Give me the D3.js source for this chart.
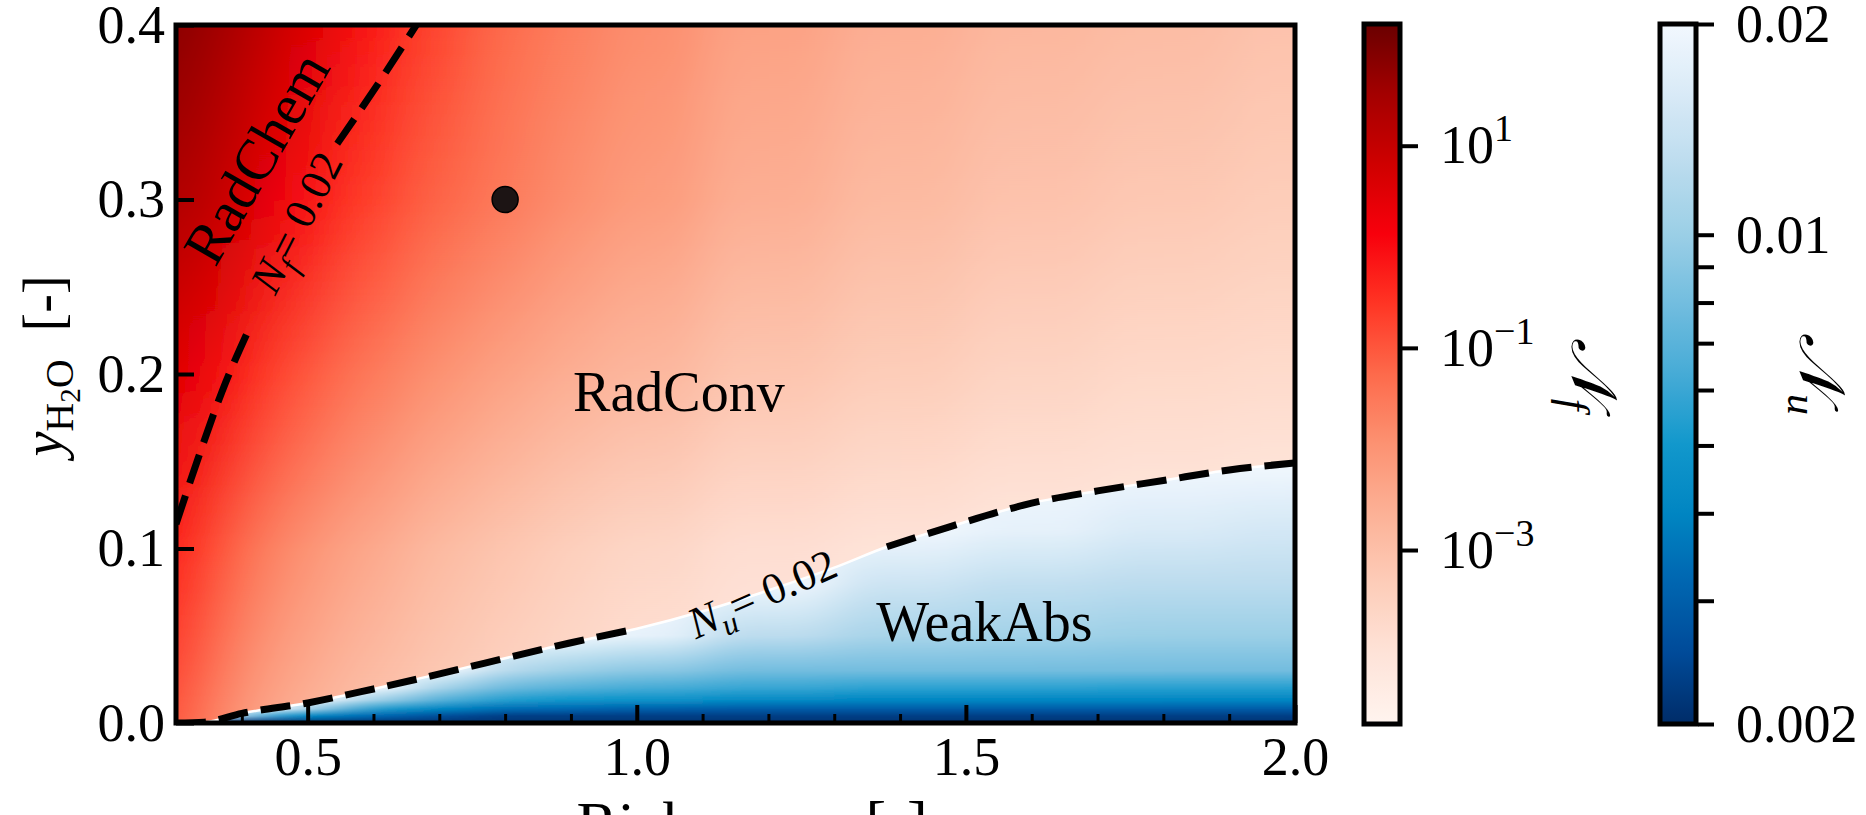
<!DOCTYPE html>
<html>
<head>
<meta charset="UTF-8">
<title>Regime map</title>
<script src="https://cdn.jsdelivr.net/npm/d3@7"></script>
<style>
  body { margin: 0; background: #fff; }
  svg { display: block; font-family: "Liberation Serif", "DejaVu Serif", serif; }
</style>
</head>
<body>
<svg id="chart" width="1866" height="815"></svg>
<script>
// map grid: x nodes of the columns, y nodes of the rows
const xNodes = [0.3, 0.35, 0.4, 0.45, 0.5, 0.6, 0.7, 0.8, 0.9, 1.0, 1.2, 1.4, 1.6, 1.8, 2.0];

const nfRows = [0, 0.1, 0.2, 0.3, 0.4];
const nfY00 = [0.12, 0.029, 0.008, 0.0036, 0.0019, 8.5e-4, 4.5e-4, 2.4e-4, 1.5e-4, 9.2e-5, 5.7e-5, 4.2e-5, 3.5e-5, 3e-5, 3e-5];
const nfY10 = [0.6, 0.2, 0.054, 0.021, 0.0094, 0.0036, 0.0014, 7.3e-4, 3.9e-4, 2.4e-4, 1.3e-4, 9.2e-5, 6.7e-5, 5.7e-5, 4.9e-5];
const nfY20 = [4, 1.8, 0.6, 0.2, 0.088, 0.029, 0.011, 0.005, 0.0026, 0.0016, 7.3e-4, 4.5e-4, 2.8e-4, 2e-4, 1.7e-4];
const nfY30 = [23, 12, 5.6, 2.1, 0.8, 0.2, 0.064, 0.029, 0.013, 0.0068, 0.0026, 0.0014, 8.5e-4, 6.2e-4, 4.5e-4];
const nfY40 = [71, 38, 20, 9, 3.4, 0.7, 0.17, 0.054, 0.025, 0.013, 0.005, 0.0026, 0.0016, 0.0012, 8.5e-4];

// N_u (only shown under the N_u = 0.02 line)
const nuRows = [0, 0.004, 0.008, 0.013, 0.02, 0.03, 0.05, 0.08, 0.11, 0.15];
const nuY000 = [0.0021, 0.0021, 0.0021, 0.0021, 0.0021, 0.0021, 0.0021, 0.0021, 0.0021, 0.0021, 0.0021, 0.0021, 0.0021, 0.0021, 0.0021];
const nuY004 = [0.02, 0.02, 0.008, 0.005, 0.004, 0.0032, 0.0026, 0.0023, 0.0023, 0.0023, 0.0023, 0.0023, 0.0023, 0.0023, 0.0023];
const nuY008 = [0.02, 0.02, 0.02, 0.02, 0.0089, 0.0053, 0.004, 0.0033, 0.0032, 0.003, 0.0029, 0.0029, 0.0029, 0.0029, 0.0029];
const nuY013 = [0.02, 0.02, 0.02, 0.02, 0.02, 0.01, 0.0066, 0.0053, 0.0048, 0.0046, 0.0042, 0.004, 0.004, 0.004, 0.004];
const nuY020 = [0.02, 0.02, 0.02, 0.02, 0.02, 0.02, 0.0105, 0.0076, 0.0068, 0.0063, 0.0059, 0.0056, 0.0056, 0.0055, 0.0055];
const nuY030 = [0.02, 0.02, 0.02, 0.02, 0.02, 0.02, 0.02, 0.012, 0.01, 0.0091, 0.008, 0.008, 0.008, 0.008, 0.008];
const nuY050 = [0.02, 0.02, 0.02, 0.02, 0.02, 0.02, 0.02, 0.02, 0.02, 0.0178, 0.0126, 0.011, 0.0105, 0.01, 0.01];
const nuY080 = [0.02, 0.02, 0.02, 0.02, 0.02, 0.02, 0.02, 0.02, 0.02, 0.02, 0.0195, 0.0145, 0.0132, 0.0126, 0.0126];
const nuY110 = [0.02, 0.02, 0.02, 0.02, 0.02, 0.02, 0.02, 0.02, 0.02, 0.02, 0.02, 0.0195, 0.0178, 0.0159, 0.0152];
const nuY150 = [0.02, 0.02, 0.02, 0.02, 0.02, 0.02, 0.02, 0.02, 0.02, 0.02, 0.02, 0.02, 0.02, 0.02, 0.02];

// contour lines (x, y) and the stretch left open for their labels
const nuContour = [[0.3, 0], [0.343, 0.0005], [0.4, 0.0055], [0.5, 0.0115], [0.6, 0.0195], [0.71, 0.029], [0.81, 0.038],
  [0.9, 0.046], [1.0, 0.054], [1.1, 0.064], [1.2, 0.076], [1.3, 0.089], [1.38, 0.101], [1.48, 0.113], [1.6, 0.126],
  [1.7, 0.133], [1.8, 0.139], [1.9, 0.145], [2.0, 0.149]];
const nuGap = [1.0, 1.38];
const nfContour = [[0.3, 0.114], [0.333, 0.151], [0.37, 0.19], [0.41, 0.225], [0.45, 0.258], [0.5, 0.295],
  [0.545, 0.332], [0.61, 0.368], [0.665, 0.4]];
const nfGap = [0.41, 0.545];

const marker = [0.8, 0.3];
const nfLimits = [1.9e-5, 160];
const nuLimits = [0.002, 0.02];
const xMajor = [0.5, 1.0, 1.5, 2.0];
const xMinor = [0.4, 0.6, 0.7, 0.8, 0.9, 1.1, 1.2, 1.3, 1.4, 1.6, 1.7, 1.8, 1.9];
const yMajor = [0.0, 0.1, 0.2, 0.3, 0.4];
const nfTicks = [1e-3, 1e-1, 1e1];
const nuTicks = [0.002, 0.003, 0.004, 0.005, 0.006, 0.007, 0.008, 0.009, 0.01, 0.02];
const nuLabelled = [0.002, 0.01, 0.02];

const redStops = ["#fff4ef", "#fee3d8", "#fdcdb9", "#fcb196", "#fc9272", "#fd6a4b", "#ff3524", "#f8000c", "#cf0000", "#a30000", "#6a0000"];
const blueStops = ["#002c68", "#004a98", "#0065b0", "#0085c2", "#1298cc", "#46abd6", "#72bddf", "#9bcfe6", "#bcdcee", "#d9eaf7", "#f2f8fe"];

const W = 1866, H = 815;
const plot = {left: 176, right: 1295, top: 25, bottom: 723};
const svg = d3.select("#chart");
svg.append("rect").attr("width", W).attr("height", H).attr("fill", "#fff");

const x = d3.scaleLinear().domain([0.3, 2.0]).range([plot.left, plot.right]);
const y = d3.scaleLinear().domain([0, 0.4]).range([plot.bottom, plot.top]);
const redInterp = d3.piecewise(d3.interpolateRgb, redStops);
const blueInterp = d3.piecewise(d3.interpolateRgb, blueStops);
const redColor = d3.scaleSequentialLog(redInterp).domain(nfLimits);
const blueColor = d3.scaleSequentialLog(blueInterp).domain(nuLimits);

const defs = svg.append("defs");
defs.append("clipPath").attr("id", "plotClip").append("rect")
  .attr("x", plot.left).attr("y", plot.top)
  .attr("width", plot.right - plot.left).attr("height", plot.bottom - plot.top);

const blur = defs.append("filter").attr("id", "hblur").attr("filterUnits", "userSpaceOnUse")
  .attr("x", 0).attr("y", 0).attr("width", W).attr("height", H);
blur.append("feGaussianBlur").attr("stdDeviation", "26 0");

// column extents, the outer ones bleed past the frame
const colEdges = xNodes.map((v, i) => {
  const l = i === 0 ? x(v) - 60 : (x(xNodes[i - 1]) + x(v)) / 2;
  const r = i === xNodes.length - 1 ? x(v) + 60 : (x(v) + x(xNodes[i + 1])) / 2;
  return [l, r];
});

// red field
const nfGrid = [nfY00, nfY10, nfY20, nfY30, nfY40];
xNodes.forEach((xv, i) => {
  const g = defs.append("linearGradient").attr("id", "nf" + i).attr("gradientUnits", "userSpaceOnUse")
    .attr("x1", 0).attr("x2", 0).attr("y1", y(0)).attr("y2", y(0.4));
  nfRows.forEach((rv, j) => g.append("stop").attr("offset", rv / 0.4).attr("stop-color", redColor(nfGrid[j][i])));
});
svg.append("g").attr("clip-path", "url(#plotClip)")
  .append("g").attr("filter", "url(#hblur)")
  .selectAll("rect").data(xNodes).join("rect")
  .attr("x", (d, i) => colEdges[i][0])
  .attr("width", (d, i) => colEdges[i][1] - colEdges[i][0] + 0.5)
  .attr("y", y(0.4) - 30).attr("height", y(0) - y(0.4) + 60)
  .attr("fill", (d, i) => `url(#nf${i})`);

// blue field, clipped under the N_u contour
const nuGrid = [nuY000, nuY004, nuY008, nuY013, nuY020, nuY030, nuY050, nuY080, nuY110, nuY150];
const nuTop = nuRows[nuRows.length - 1];
xNodes.forEach((xv, i) => {
  const g = defs.append("linearGradient").attr("id", "nu" + i).attr("gradientUnits", "userSpaceOnUse")
    .attr("x1", 0).attr("x2", 0).attr("y1", y(0)).attr("y2", y(nuTop));
  nuRows.forEach((rv, j) => g.append("stop").attr("offset", rv / nuTop).attr("stop-color", blueColor(nuGrid[j][i])));
});
const clipPts = nuContour.map(d => [x(d[0]), y(d[1])]);
const last = clipPts[clipPts.length - 1];
clipPts.push([last[0] + 6, last[1]], [last[0] + 6, y(0) + 6], [x(0.3) - 6, y(0) + 6], [x(0.3) - 6, y(0)]);
defs.append("clipPath").attr("id", "nuClip").append("path").attr("d", "M" + clipPts.join("L") + "Z");

svg.append("g").attr("clip-path", "url(#plotClip)")
  .append("g").attr("clip-path", "url(#nuClip)")
  .append("g").attr("filter", "url(#hblur)")
  .selectAll("rect").data(xNodes).join("rect")
  .attr("x", (d, i) => colEdges[i][0])
  .attr("width", (d, i) => colEdges[i][1] - colEdges[i][0] + 0.5)
  .attr("y", y(nuTop + 0.01)).attr("height", y(0) - y(nuTop + 0.01) + 20)
  .attr("fill", (d, i) => `url(#nu${i})`);

// contour lines
const line = d3.line().x(d => x(d[0])).y(d => y(d[1])).curve(d3.curveMonotoneX);
const lines = svg.append("g").attr("clip-path", "url(#plotClip)");
lines.append("path").attr("d", line(nuContour)).attr("fill", "none").attr("stroke", "#fff").attr("stroke-width", 2.5);
[
  nuContour.filter(d => d[0] <= nuGap[0]),
  nuContour.filter(d => d[0] >= nuGap[1]),
  nfContour.filter(d => d[0] <= nfGap[0]),
  nfContour.filter(d => d[0] >= nfGap[1])
].forEach(seg => {
  lines.append("path").attr("d", line(seg)).attr("fill", "none")
    .attr("stroke", "#000").attr("stroke-width", 7).attr("stroke-dasharray", "30,13");
});

// marker
svg.append("circle").attr("cx", x(marker[0])).attr("cy", y(marker[1])).attr("r", 13)
  .attr("fill", "#1c1414").attr("stroke", "#000").attr("stroke-width", 1.5);

// region and contour labels
function regionLabel(px, py, angle, txt, size) {
  svg.append("text")
    .attr("transform", `translate(${x(px)},${y(py)}) rotate(${angle})`)
    .attr("text-anchor", "middle").attr("dy", "0.35em")
    .style("font-size", size + "px").text(txt);
}
regionLabel(0.4215, 0.324, -60, "RadChem", 58);
regionLabel(1.064, 0.19, 0, "RadConv", 56);
regionLabel(1.528, 0.058, 0, "WeakAbs", 56);

function contourLabel(px, py, angle, sub) {
  const t = svg.append("text")
    .attr("transform", `translate(${x(px)},${y(py)}) rotate(${angle})`)
    .attr("text-anchor", "middle").attr("dy", "0.35em").style("font-size", "44px");
  t.append("tspan").style("font-style", "italic").text("N");
  t.append("tspan").attr("dy", 10).style("font-size", "31px").style("font-style", "italic").text(sub);
  t.append("tspan").attr("dy", -10).text("= 0.02");
}
contourLabel(0.482, 0.287, -63, "f");
contourLabel(1.19, 0.0745, -24, "u");

// frame
svg.append("rect").attr("x", plot.left).attr("y", plot.top)
  .attr("width", plot.right - plot.left).attr("height", plot.bottom - plot.top)
  .attr("fill", "none").attr("stroke", "#000").attr("stroke-width", 5);

// axes with inward ticks
function styleAxis(g) {
  g.select(".domain").remove();
  g.selectAll(".tick line").attr("stroke", "#000").attr("stroke-width", 4);
  g.selectAll(".tick text").attr("fill", "#000").style("font-size", "54px")
    .style("font-family", "'Liberation Serif', serif");
}
svg.append("g").attr("transform", `translate(0,${plot.bottom})`)
  .call(d3.axisBottom(x).tickValues(xMajor).tickSize(-18).tickPadding(14).tickFormat(d3.format(".1f")))
  .call(styleAxis);
svg.append("g").attr("transform", `translate(0,${plot.bottom})`)
  .call(d3.axisBottom(x).tickValues(xMinor).tickSize(-9).tickFormat(""))
  .call(styleAxis)
  .selectAll(".tick line").attr("stroke-width", 3);
svg.append("g").attr("transform", `translate(${plot.left},0)`)
  .call(d3.axisLeft(y).tickValues(yMajor).tickSize(-18).tickPadding(11).tickFormat(d3.format(".1f")))
  .call(styleAxis);

// axis titles
const yl = svg.append("text")
  .attr("transform", `translate(62,${(plot.top + plot.bottom) / 2 - 8}) rotate(-90)`)
  .attr("text-anchor", "middle").style("font-size", "56px");
yl.append("tspan").style("font-style", "italic").text("y");
yl.append("tspan").attr("dy", 11).style("font-size", "40px").text("H");
yl.append("tspan").attr("dy", 7).style("font-size", "29px").text("2");
yl.append("tspan").attr("dy", -7).style("font-size", "40px").text("O");
yl.append("tspan").attr("dy", -11).text("\u2002[-]");

const xl = svg.append("text").attr("x", 752).attr("y", 844)
  .attr("text-anchor", "middle").style("font-size", "62px");
xl.append("tspan").text("Richness ");
xl.append("tspan").style("font-style", "italic").text("\u03c6");
xl.append("tspan").text(" [-]");

// colour bars
const cbTop = 24, cbBottom = 724;
function colorBar(id, x0, x1, interp, scale, ticks, fmt, title, sub, titleX) {
  const grad = defs.append("linearGradient").attr("id", id)
    .attr("x1", 0).attr("y1", 1).attr("x2", 0).attr("y2", 0);
  d3.range(0, 1.0001, 0.02).forEach(t => grad.append("stop").attr("offset", t).attr("stop-color", interp(t)));
  svg.append("rect").attr("x", x0).attr("y", cbTop).attr("width", x1 - x0).attr("height", cbBottom - cbTop)
    .attr("fill", `url(#${id})`).attr("stroke", "#000").attr("stroke-width", 5);
  const ax = svg.append("g").attr("transform", `translate(${x1 + 2},0)`)
    .call(d3.axisRight(scale.copy().range([cbBottom, cbTop])).tickValues(ticks).tickSize(16).tickPadding(22).tickFormat(""))
    .call(styleAxis);
  ax.selectAll(".tick text").each(function(d) { fmt(d3.select(this), d); });
  const t = svg.append("text")
    .attr("transform", `translate(${titleX},${(cbTop + cbBottom) / 2}) rotate(90)`)
    .attr("text-anchor", "middle").style("font-size", "64px");
  t.append("tspan").style("font-family", "'DejaVu Serif', serif").style("font-style", "italic").text(title);
  t.append("tspan").attr("dy", 12).style("font-size", "42px").style("font-style", "italic").text(sub);
}

colorBar("cbRed", 1364, 1400, redInterp, d3.scaleLog().domain(nfLimits), nfTicks, (sel, d) => {
  sel.append("tspan").text("10");
  sel.append("tspan").attr("dy", -22).style("font-size", "38px").text(d3.format("d")(Math.log10(d)).replace("-", "\u2212"));
}, "\ud835\udca9", "f", 1572);

colorBar("cbBlue", 1660, 1696, blueInterp, d3.scaleLog().domain(nuLimits), nuTicks, (sel, d) => {
  if (nuLabelled.some(v => Math.abs(v - d) < 1e-9)) sel.text(d3.format("")(d));
}, "\ud835\udca9", "u", 1800);
</script>
</body>
</html>
